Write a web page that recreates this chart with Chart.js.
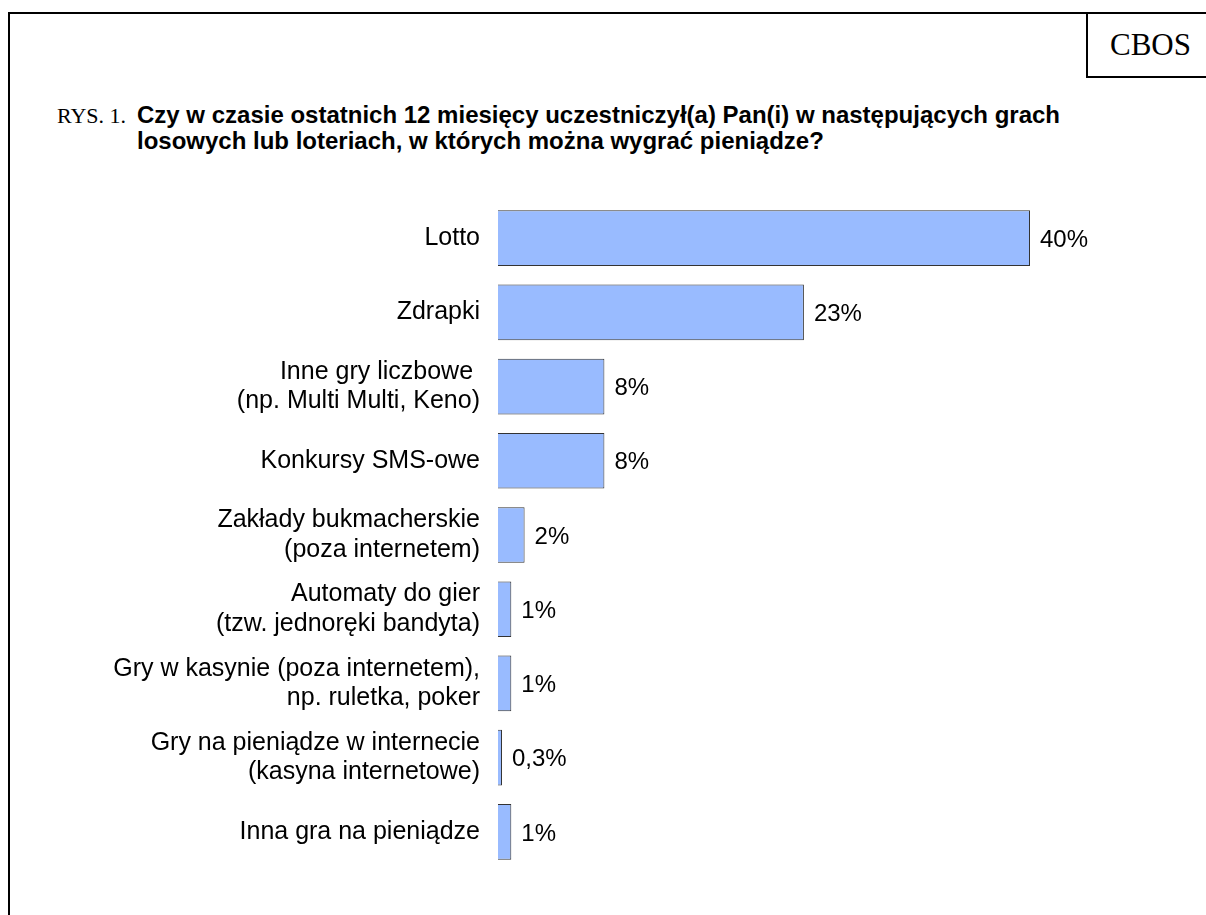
<!DOCTYPE html>
<html>
<head>
<meta charset="utf-8">
<script src="https://cdn.jsdelivr.net/npm/chart.js@4"></script>
<style>
  body { margin: 0; background: #fff; width: 1206px; height: 915px; overflow: hidden; position: relative; }
  .frame { position: absolute; left: 8px; top: 12px; width: 1300px; height: 1000px; border-left: 2px solid #000; border-top: 2px solid #000; }
  .logo { position: absolute; left: 1086px; top: 12px; width: 200px; height: 66px; border-left: 2px solid #000; border-bottom: 2px solid #000;
          font-family: "Liberation Serif", "Times New Roman", serif; font-size: 31px; line-height: 62px; padding: 2px 0 0 22px; box-sizing: border-box; }
  .rys { position: absolute; left: 57px; top: 102px; font-family: "Liberation Serif", "Times New Roman", serif; font-size: 22px; line-height: 27px; }
  .question { position: absolute; left: 137px; top: 102px; font-family: "Liberation Sans", Arial, sans-serif; font-weight: bold; font-size: 24px; line-height: 26px; white-space: nowrap; }
  .chart-box { position: absolute; left: 0; top: 201px; width: 1206px; height: 668px; }
</style>
</head>
<body>
<div class="frame"></div>
<div class="logo">CBOS</div>
<div class="rys">RYS. 1.</div>
<div class="question">Czy w czasie ostatnich 12 miesięcy uczestniczył(a) Pan(i) w następujących grach<br>losowych lub loteriach, w których można wygrać pieniądze?</div>
<div class="chart-box"><canvas id="gamesChart"></canvas></div>
<script>
const categories = [
    ['Lotto'],
    ['Zdrapki'],
    ['Inne gry liczbowe ', '(np. Multi Multi, Keno)'],
    ['Konkursy SMS-owe'],
    ['Zakłady bukmacherskie', '(poza internetem)'],
    ['Automaty do gier', '(tzw. jednoręki bandyta)'],
    ['Gry w kasynie (poza internetem),', 'np. ruletka, poker'],
    ['Gry na pieniądze w internecie', '(kasyna internetowe)'],
    ['Inna gra na pieniądze']
];
const values = [40, 23, 8, 8, 2, 1, 1, 0.3, 1];
const valueLabels = ['40%', '23%', '8%', '8%', '2%', '1%', '1%', '0,3%', '1%'];

const fontFamily = '"Liberation Sans", Arial, sans-serif';

// draw the percentage next to each bar
const valueLabelPlugin = {
    id: 'valueLabels',
    afterDatasetsDraw(chart) {
        const ctx = chart.ctx;
        const meta = chart.getDatasetMeta(0);
        ctx.save();
        ctx.font = '24px ' + fontFamily;
        ctx.fillStyle = '#000';
        ctx.textAlign = 'left';
        ctx.textBaseline = 'middle';
        meta.data.forEach((bar, i) => {
            ctx.fillText(valueLabels[i], bar.x + 10, bar.y + 2);
        });
        ctx.restore();
    }
};

const ctx = document.getElementById('gamesChart').getContext('2d');
new Chart(ctx, {
    type: 'bar',
    data: {
        labels: categories,
        datasets: [{
            data: values,
            backgroundColor: '#99bbff',
            borderColor: '#333333',
            borderWidth: 1,
            barPercentage: 0.75,
            categoryPercentage: 1,
        }],
    },
    options: {
        indexAxis: 'y',
        responsive: true,
        maintainAspectRatio: false,
        animation: false,
        layout: { padding: { left: 0, right: 43, top: 0, bottom: 0 } },
        plugins: {
            legend: { display: false },
            tooltip: { enabled: false },
        },
        scales: {
            x: {
                display: false,
                min: 0,
                max: 50,
            },
            y: {
                grid: { display: false },
                border: { display: false },
                afterFit: function (scale) {
                    scale.width = 498; // bars start at x = 498
                    scale.paddingTop = 0;
                    scale.paddingBottom = 0;
                },
                ticks: {
                    padding: 10,
                    color: '#000',
                    font: { family: fontFamily, size: 25, lineHeight: 1.18 },
                },
            },
        },
    },
    plugins: [valueLabelPlugin],
});
</script>
</body>
</html>
